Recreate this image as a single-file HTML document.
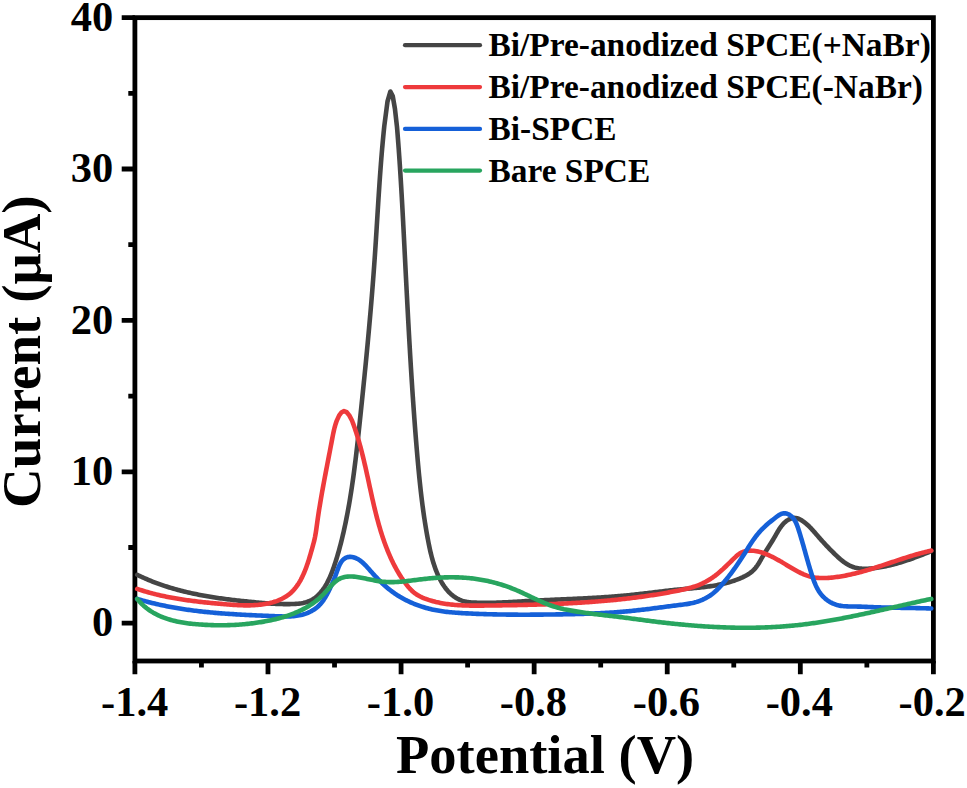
<!DOCTYPE html>
<html lang="en"><head><meta charset="utf-8"><title>DPV chart</title>
<style>html,body{margin:0;padding:0;background:#fff;}body{width:967px;height:788px;overflow:hidden;font-family:"Liberation Serif",serif;}svg{display:block;}</style></head>
<body>
<svg width="967" height="788" viewBox="0 0 967 788">
<rect x="0" y="0" width="967" height="788" fill="#ffffff"/>
<defs><clipPath id="plot"><rect x="134.9" y="17.65" width="798.5" height="643.35"/></clipPath></defs>
<g stroke="#000" stroke-width="4.8" fill="none" stroke-linecap="butt">
<rect x="134.9" y="17.65" width="798.50" height="643.35"/>
<path d="M134.90,661.0 V674.20 M201.44,661.0 V667.60 M267.98,661.0 V674.20 M334.53,661.0 V667.60 M401.07,661.0 V674.20 M467.61,661.0 V667.60 M534.15,661.0 V674.20 M600.69,661.0 V667.60 M667.23,661.0 V674.20 M733.77,661.0 V667.60 M800.32,661.0 V674.20 M866.86,661.0 V667.60 M933.40,661.0 V674.20 M134.9,623.20 H121.70 M134.9,471.80 H121.70 M134.9,320.40 H121.70 M134.9,169.00 H121.70 M134.9,17.60 H121.70 M134.9,547.50 H128.30 M134.9,396.10 H128.30 M134.9,244.70 H128.30 M134.9,93.30 H128.30"/>
</g>
<g fill="none" stroke-linejoin="round" stroke-linecap="round">
<path d="M137.20,574.80 L138.56,575.47 L139.93,576.12 L141.30,576.77 L142.68,577.40 L144.05,578.02 L145.43,578.63 L146.82,579.23 L148.21,579.82 L149.60,580.40 L150.99,580.97 L152.39,581.52 L153.79,582.07 L155.20,582.61 L156.61,583.14 L158.02,583.65 L159.43,584.16 L160.85,584.66 L162.27,585.15 L163.69,585.63 L165.11,586.10 L166.54,586.56 L167.97,587.01 L169.40,587.46 L170.84,587.89 L172.28,588.32 L173.72,588.73 L175.16,589.14 L176.60,589.54 L178.05,589.94 L179.50,590.32 L180.95,590.70 L182.41,591.07 L183.86,591.43 L185.32,591.79 L186.78,592.13 L188.24,592.47 L189.71,592.80 L191.17,593.13 L192.64,593.45 L194.11,593.76 L195.58,594.07 L197.05,594.37 L198.52,594.66 L200.00,594.94 L201.47,595.22 L202.95,595.50 L204.43,595.77 L205.91,596.03 L207.39,596.29 L208.88,596.54 L210.36,596.78 L211.85,597.03 L213.33,597.26 L214.82,597.49 L216.31,597.72 L217.79,597.94 L219.28,598.16 L220.77,598.37 L222.26,598.58 L223.76,598.78 L225.25,598.98 L226.74,599.17 L228.23,599.37 L229.73,599.55 L231.22,599.74 L232.71,599.92 L234.21,600.10 L235.70,600.27 L237.20,600.44 L238.69,600.61 L240.19,600.77 L241.68,600.94 L243.18,601.09 L244.67,601.25 L246.17,601.41 L247.66,601.56 L249.15,601.71 L250.65,601.86 L252.14,602.00 L253.63,602.15 L255.12,602.29 L256.62,602.43 L258.11,602.57 L259.60,602.71 L261.09,602.84 L262.58,602.97 L264.07,603.09 L265.57,603.21 L267.06,603.32 L268.55,603.43 L270.05,603.54 L271.54,603.63 L273.04,603.72 L274.54,603.80 L276.03,603.87 L277.53,603.94 L279.04,603.99 L280.54,604.04 L282.05,604.07 L283.55,604.10 L285.06,604.11 L286.58,604.11 L288.09,604.10 L289.61,604.08 L291.13,604.05 L292.65,604.00 L294.18,603.93 L295.70,603.85 L297.23,603.75 L298.75,603.61 L300.25,603.43 L301.75,603.21 L303.23,602.94 L304.70,602.62 L306.14,602.23 L307.55,601.77 L308.94,601.25 L310.30,600.66 L311.62,600.01 L312.90,599.28 L314.14,598.49 L315.33,597.63 L316.48,596.70 L317.58,595.71 L318.65,594.68 L319.67,593.59 L320.66,592.47 L321.60,591.31 L322.51,590.12 L323.39,588.91 L324.23,587.67 L325.04,586.41 L325.81,585.14 L326.56,583.84 L327.28,582.52 L327.98,581.18 L328.65,579.83 L329.29,578.47 L329.91,577.09 L330.51,575.70 L331.10,574.30 L331.66,572.89 L332.20,571.47 L332.74,570.04 L333.25,568.61 L333.76,567.18 L334.25,565.74 L334.73,564.30 L335.20,562.85 L335.67,561.41 L336.13,559.97 L336.58,558.53 L337.02,557.08 L337.45,555.64 L337.87,554.19 L338.29,552.75 L338.70,551.30 L339.11,549.85 L339.51,548.41 L339.90,546.96 L340.28,545.51 L340.66,544.06 L341.03,542.61 L341.40,541.15 L341.76,539.70 L342.11,538.25 L342.46,536.79 L342.80,535.34 L343.14,533.88 L343.48,532.42 L343.81,530.96 L344.13,529.50 L344.45,528.04 L344.77,526.58 L345.08,525.11 L345.39,523.65 L345.69,522.18 L345.99,520.72 L346.29,519.25 L346.58,517.78 L346.87,516.31 L347.15,514.84 L347.44,513.37 L347.71,511.90 L347.99,510.42 L348.26,508.95 L348.52,507.47 L348.79,506.00 L349.04,504.52 L349.30,503.04 L349.55,501.57 L349.80,500.09 L350.05,498.61 L350.29,497.13 L350.53,495.65 L350.77,494.16 L351.01,492.68 L351.24,491.20 L351.47,489.71 L351.69,488.23 L351.91,486.74 L352.13,485.26 L352.35,483.77 L352.57,482.28 L352.78,480.80 L352.99,479.31 L353.20,477.82 L353.40,476.33 L353.61,474.84 L353.81,473.35 L354.01,471.86 L354.20,470.37 L354.40,468.87 L354.59,467.38 L354.78,465.89 L354.97,464.40 L355.16,462.90 L355.34,461.41 L355.53,459.92 L355.71,458.42 L355.89,456.93 L356.07,455.43 L356.24,453.94 L356.42,452.44 L356.59,450.94 L356.76,449.45 L356.94,447.95 L357.11,446.46 L357.28,444.96 L357.44,443.46 L357.61,441.97 L357.78,440.47 L357.94,438.97 L358.10,437.47 L358.27,435.98 L358.43,434.48 L358.59,432.98 L358.75,431.48 L358.91,429.99 L359.07,428.49 L359.23,426.99 L359.39,425.49 L359.55,424.00 L359.71,422.50 L359.87,421.00 L360.02,419.50 L360.18,418.01 L360.34,416.51 L360.49,415.01 L360.65,413.52 L360.81,412.02 L360.96,410.52 L361.12,409.03 L361.28,407.53 L361.43,406.03 L361.59,404.54 L361.74,403.04 L361.90,401.54 L362.05,400.05 L362.21,398.55 L362.36,397.06 L362.51,395.56 L362.67,394.06 L362.82,392.57 L362.97,391.07 L363.13,389.58 L363.28,388.08 L363.43,386.59 L363.58,385.09 L363.73,383.60 L363.88,382.10 L364.04,380.61 L364.19,379.11 L364.34,377.62 L364.49,376.12 L364.63,374.63 L364.78,373.13 L364.93,371.64 L365.08,370.14 L365.23,368.65 L365.38,367.15 L365.52,365.66 L365.67,364.16 L365.82,362.67 L365.96,361.17 L366.11,359.68 L366.25,358.18 L366.40,356.69 L366.54,355.19 L366.68,353.70 L366.83,352.20 L366.97,350.71 L367.11,349.21 L367.25,347.72 L367.40,346.22 L367.54,344.73 L367.68,343.23 L367.82,341.74 L367.96,340.24 L368.10,338.75 L368.23,337.26 L368.37,335.76 L368.51,334.27 L368.65,332.77 L368.78,331.28 L368.92,329.78 L369.06,328.29 L369.19,326.79 L369.32,325.30 L369.46,323.80 L369.59,322.31 L369.72,320.81 L369.86,319.32 L369.99,317.82 L370.12,316.32 L370.25,314.83 L370.38,313.33 L370.51,311.84 L370.64,310.34 L370.77,308.85 L370.89,307.35 L371.02,305.86 L371.15,304.36 L371.27,302.86 L371.40,301.37 L371.52,299.87 L371.64,298.38 L371.77,296.88 L371.89,295.38 L372.01,293.89 L372.13,292.39 L372.25,290.89 L372.37,289.40 L372.49,287.90 L372.61,286.40 L372.73,284.91 L372.84,283.41 L372.96,281.91 L373.08,280.42 L373.19,278.92 L373.30,277.42 L373.42,275.92 L373.53,274.43 L373.64,272.93 L373.75,271.43 L373.86,269.93 L373.97,268.43 L374.08,266.94 L374.19,265.44 L374.30,263.94 L374.40,262.44 L374.51,260.94 L374.62,259.44 L374.72,257.94 L374.82,256.44 L374.93,254.94 L375.03,253.44 L375.13,251.94 L375.23,250.44 L375.33,248.94 L375.43,247.44 L375.53,245.94 L375.62,244.44 L375.72,242.94 L375.82,241.44 L375.91,239.94 L376.01,238.44 L376.10,236.94 L376.20,235.44 L376.29,233.94 L376.39,232.44 L376.48,230.94 L376.58,229.44 L376.67,227.93 L376.76,226.43 L376.85,224.93 L376.95,223.43 L377.04,221.93 L377.13,220.43 L377.23,218.93 L377.32,217.42 L377.41,215.92 L377.50,214.42 L377.60,212.92 L377.69,211.42 L377.78,209.92 L377.88,208.42 L377.97,206.91 L378.07,205.41 L378.16,203.91 L378.25,202.41 L378.35,200.91 L378.44,199.41 L378.54,197.91 L378.64,196.40 L378.73,194.90 L378.83,193.40 L378.93,191.90 L379.03,190.40 L379.13,188.90 L379.23,187.40 L379.33,185.90 L379.43,184.40 L379.53,182.90 L379.63,181.40 L379.74,179.90 L379.84,178.40 L379.95,176.90 L380.05,175.40 L380.16,173.90 L380.27,172.40 L380.38,170.90 L380.49,169.40 L380.60,167.90 L380.71,166.40 L380.83,164.90 L380.94,163.40 L381.06,161.90 L381.18,160.40 L381.29,158.91 L381.41,157.41 L381.54,155.91 L381.66,154.41 L381.78,152.91 L381.91,151.42 L382.04,149.92 L382.16,148.42 L382.29,146.93 L382.43,145.43 L382.56,143.93 L382.69,142.44 L382.83,140.94 L382.97,139.45 L383.11,137.95 L383.25,136.46 L383.40,134.96 L383.54,133.47 L383.69,131.97 L383.84,130.48 L383.99,128.99 L384.15,127.49 L384.30,126.00 L387.50,101.50 L390.40,91.50 L392.70,96.00 L394.90,108.50 L397.00,127.00 L397.12,128.49 L397.25,129.99 L397.37,131.48 L397.49,132.98 L397.61,134.47 L397.72,135.97 L397.84,137.46 L397.96,138.96 L398.07,140.45 L398.19,141.95 L398.30,143.44 L398.41,144.94 L398.52,146.44 L398.63,147.93 L398.74,149.43 L398.85,150.92 L398.95,152.42 L399.06,153.92 L399.16,155.41 L399.27,156.91 L399.37,158.41 L399.48,159.90 L399.58,161.40 L399.68,162.90 L399.78,164.39 L399.88,165.89 L399.98,167.39 L400.07,168.88 L400.17,170.38 L400.27,171.88 L400.36,173.38 L400.46,174.87 L400.55,176.37 L400.64,177.87 L400.74,179.37 L400.83,180.86 L400.92,182.36 L401.01,183.86 L401.10,185.36 L401.19,186.86 L401.28,188.35 L401.37,189.85 L401.45,191.35 L401.54,192.85 L401.63,194.35 L401.71,195.84 L401.80,197.34 L401.88,198.84 L401.97,200.34 L402.05,201.84 L402.14,203.34 L402.22,204.84 L402.30,206.33 L402.38,207.83 L402.47,209.33 L402.55,210.83 L402.63,212.33 L402.71,213.83 L402.79,215.33 L402.87,216.82 L402.95,218.32 L403.03,219.82 L403.11,221.32 L403.19,222.82 L403.26,224.32 L403.34,225.82 L403.42,227.32 L403.50,228.82 L403.58,230.31 L403.65,231.81 L403.73,233.31 L403.81,234.81 L403.88,236.31 L403.96,237.81 L404.04,239.31 L404.11,240.81 L404.19,242.30 L404.26,243.80 L404.34,245.30 L404.42,246.80 L404.49,248.30 L404.57,249.80 L404.64,251.30 L404.72,252.79 L404.79,254.29 L404.87,255.79 L404.94,257.29 L405.02,258.79 L405.10,260.29 L405.17,261.79 L405.25,263.28 L405.32,264.78 L405.40,266.28 L405.47,267.78 L405.55,269.28 L405.63,270.78 L405.70,272.27 L405.78,273.77 L405.85,275.27 L405.93,276.77 L406.01,278.27 L406.08,279.76 L406.16,281.26 L406.24,282.76 L406.31,284.26 L406.39,285.76 L406.47,287.25 L406.54,288.75 L406.62,290.25 L406.70,291.75 L406.78,293.25 L406.85,294.74 L406.93,296.24 L407.01,297.74 L407.09,299.24 L407.17,300.73 L407.24,302.23 L407.32,303.73 L407.40,305.23 L407.48,306.72 L407.56,308.22 L407.64,309.72 L407.72,311.22 L407.80,312.71 L407.88,314.21 L407.96,315.71 L408.04,317.21 L408.12,318.70 L408.20,320.20 L408.28,321.70 L408.37,323.20 L408.45,324.69 L408.53,326.19 L408.61,327.69 L408.69,329.19 L408.78,330.68 L408.86,332.18 L408.94,333.68 L409.03,335.17 L409.11,336.67 L409.20,338.17 L409.28,339.67 L409.37,341.16 L409.45,342.66 L409.54,344.16 L409.63,345.65 L409.71,347.15 L409.80,348.65 L409.89,350.15 L409.97,351.64 L410.06,353.14 L410.15,354.64 L410.24,356.13 L410.33,357.63 L410.42,359.13 L410.51,360.62 L410.60,362.12 L410.69,363.62 L410.78,365.11 L410.87,366.61 L410.96,368.11 L411.06,369.61 L411.15,371.10 L411.24,372.60 L411.34,374.10 L411.43,375.59 L411.53,377.09 L411.62,378.59 L411.72,380.08 L411.81,381.58 L411.91,383.08 L412.01,384.57 L412.11,386.07 L412.20,387.57 L412.30,389.06 L412.40,390.56 L412.50,392.06 L412.60,393.55 L412.70,395.05 L412.80,396.55 L412.91,398.04 L413.01,399.54 L413.11,401.04 L413.22,402.53 L413.32,404.03 L413.43,405.53 L413.53,407.02 L413.64,408.52 L413.74,410.02 L413.85,411.51 L413.96,413.01 L414.07,414.51 L414.18,416.00 L414.28,417.50 L414.40,419.00 L414.51,420.49 L414.62,421.99 L414.73,423.49 L414.84,424.98 L414.96,426.48 L415.07,427.98 L415.18,429.47 L415.30,430.97 L415.42,432.47 L415.53,433.96 L415.65,435.46 L415.77,436.96 L415.89,438.45 L416.01,439.95 L416.13,441.45 L416.25,442.94 L416.37,444.44 L416.49,445.94 L416.62,447.43 L416.74,448.93 L416.86,450.43 L416.99,451.92 L417.12,453.42 L417.24,454.91 L417.37,456.41 L417.50,457.91 L417.63,459.40 L417.76,460.90 L417.90,462.40 L418.03,463.89 L418.17,465.39 L418.31,466.88 L418.44,468.38 L418.59,469.87 L418.73,471.37 L418.87,472.86 L419.02,474.36 L419.16,475.85 L419.31,477.35 L419.46,478.84 L419.62,480.33 L419.77,481.83 L419.93,483.32 L420.09,484.81 L420.25,486.30 L420.41,487.80 L420.58,489.29 L420.74,490.78 L420.91,492.27 L421.09,493.76 L421.26,495.25 L421.44,496.74 L421.62,498.23 L421.80,499.72 L421.99,501.21 L422.18,502.69 L422.37,504.18 L422.56,505.67 L422.76,507.15 L422.96,508.64 L423.16,510.12 L423.37,511.61 L423.58,513.09 L423.79,514.58 L424.00,516.06 L424.22,517.54 L424.45,519.02 L424.67,520.50 L424.90,521.98 L425.13,523.46 L425.37,524.94 L425.61,526.42 L425.85,527.90 L426.10,529.37 L426.35,530.85 L426.61,532.33 L426.87,533.80 L427.13,535.27 L427.40,536.75 L427.67,538.22 L427.95,539.69 L428.23,541.16 L428.51,542.63 L428.80,544.10 L429.10,545.56 L429.40,547.03 L429.72,548.49 L430.04,549.95 L430.37,551.41 L430.71,552.87 L431.06,554.32 L431.43,555.77 L431.81,557.22 L432.20,558.67 L432.60,560.11 L433.03,561.55 L433.46,562.98 L433.92,564.41 L434.39,565.84 L434.88,567.26 L435.39,568.68 L435.92,570.09 L436.47,571.50 L437.04,572.90 L437.64,574.29 L438.25,575.68 L438.90,577.06 L439.57,578.43 L440.26,579.78 L440.98,581.12 L441.73,582.44 L442.52,583.74 L443.33,585.02 L444.17,586.27 L445.05,587.49 L445.96,588.69 L446.90,589.85 L447.89,590.98 L448.90,592.07 L449.96,593.13 L451.06,594.14 L452.19,595.11 L453.37,596.04 L454.59,596.91 L455.84,597.74 L457.13,598.50 L458.45,599.20 L459.80,599.83 L461.18,600.40 L462.59,600.88 L464.02,601.29 L465.47,601.63 L466.94,601.90 L468.42,602.12 L469.92,602.29 L471.43,602.43 L472.94,602.53 L474.46,602.60 L475.98,602.66 L477.50,602.71 L479.01,602.75 L480.53,602.78 L482.04,602.81 L483.55,602.82 L485.06,602.83 L486.57,602.83 L488.07,602.82 L489.58,602.81 L491.08,602.79 L492.59,602.76 L494.09,602.72 L495.59,602.68 L497.09,602.64 L498.59,602.59 L500.08,602.53 L501.58,602.47 L503.08,602.41 L504.57,602.34 L506.07,602.27 L507.56,602.20 L509.06,602.12 L510.55,602.04 L512.05,601.96 L513.54,601.88 L515.03,601.79 L516.53,601.70 L518.02,601.62 L519.51,601.53 L521.00,601.44 L522.50,601.35 L523.99,601.26 L525.48,601.17 L526.98,601.09 L528.47,601.00 L529.97,600.91 L531.46,600.83 L532.96,600.75 L534.45,600.67 L535.95,600.59 L537.45,600.51 L538.94,600.44 L540.44,600.36 L541.94,600.29 L543.44,600.22 L544.94,600.15 L546.44,600.08 L547.94,600.01 L549.44,599.94 L550.94,599.87 L552.44,599.80 L553.94,599.74 L555.44,599.67 L556.94,599.60 L558.44,599.54 L559.94,599.47 L561.44,599.40 L562.94,599.34 L564.44,599.27 L565.94,599.21 L567.45,599.14 L568.95,599.07 L570.45,599.01 L571.95,598.94 L573.45,598.87 L574.95,598.80 L576.46,598.73 L577.96,598.66 L579.46,598.59 L580.96,598.52 L582.46,598.44 L583.96,598.37 L585.46,598.29 L586.97,598.21 L588.47,598.14 L589.97,598.06 L591.47,597.97 L592.97,597.89 L594.47,597.81 L595.97,597.72 L597.47,597.63 L598.97,597.54 L600.46,597.45 L601.96,597.35 L603.46,597.25 L604.96,597.16 L606.46,597.05 L607.95,596.95 L609.45,596.84 L610.95,596.73 L612.44,596.62 L613.94,596.51 L615.43,596.39 L616.93,596.27 L618.42,596.14 L619.92,596.02 L621.41,595.89 L622.90,595.75 L624.39,595.62 L625.88,595.48 L627.37,595.33 L628.86,595.18 L630.35,595.03 L631.84,594.88 L633.33,594.72 L634.82,594.56 L636.31,594.40 L637.79,594.23 L639.28,594.06 L640.77,593.89 L642.25,593.72 L643.74,593.55 L645.22,593.37 L646.71,593.19 L648.20,593.02 L649.68,592.84 L651.17,592.66 L652.65,592.48 L654.14,592.30 L655.62,592.12 L657.11,591.94 L658.60,591.76 L660.08,591.59 L661.57,591.41 L663.06,591.24 L664.55,591.06 L666.04,590.89 L667.53,590.72 L669.02,590.55 L670.51,590.39 L672.00,590.23 L673.49,590.07 L674.98,589.91 L676.48,589.76 L677.97,589.61 L679.47,589.46 L680.97,589.32 L682.46,589.18 L683.96,589.04 L685.46,588.91 L686.96,588.77 L688.46,588.64 L689.96,588.50 L691.46,588.36 L692.95,588.23 L694.45,588.08 L695.95,587.94 L697.45,587.79 L698.94,587.63 L700.44,587.48 L701.93,587.31 L703.42,587.14 L704.91,586.96 L706.40,586.77 L707.88,586.57 L709.37,586.36 L710.85,586.15 L712.33,585.92 L713.80,585.68 L715.28,585.42 L716.75,585.16 L718.21,584.88 L719.68,584.58 L721.14,584.28 L722.59,583.95 L724.05,583.61 L725.50,583.25 L726.94,582.87 L728.38,582.48 L729.82,582.06 L731.25,581.63 L732.68,581.17 L734.10,580.70 L735.51,580.20 L736.93,579.68 L738.33,579.13 L739.73,578.56 L741.13,577.97 L742.51,577.35 L743.88,576.69 L745.23,576.01 L746.56,575.28 L747.85,574.51 L749.12,573.70 L750.34,572.84 L751.52,571.93 L752.65,570.96 L753.72,569.93 L754.74,568.85 L755.70,567.70 L756.61,566.50 L757.48,565.26 L758.31,563.99 L759.11,562.69 L759.89,561.38 L760.65,560.05 L761.41,558.72 L762.16,557.40 L762.92,556.10 L763.68,554.81 L764.45,553.54 L765.22,552.28 L766.00,551.03 L766.78,549.78 L767.57,548.54 L768.35,547.31 L769.14,546.07 L769.92,544.82 L770.71,543.57 L771.49,542.31 L772.27,541.04 L773.05,539.75 L773.82,538.45 L774.58,537.12 L775.34,535.78 L776.11,534.43 L776.88,533.08 L777.66,531.74 L778.46,530.41 L779.29,529.10 L780.14,527.83 L781.02,526.59 L781.95,525.40 L782.91,524.26 L783.93,523.18 L785.00,522.18 L786.12,521.24 L787.32,520.40 L788.58,519.64 L789.91,518.99 L791.29,518.47 L792.71,518.10 L794.15,517.92 L795.58,517.94 L797.00,518.21 L798.38,518.69 L799.72,519.32 L801.03,520.03 L802.29,520.81 L803.52,521.64 L804.72,522.53 L805.89,523.46 L807.03,524.44 L808.15,525.46 L809.24,526.51 L810.31,527.60 L811.36,528.70 L812.39,529.83 L813.42,530.97 L814.43,532.12 L815.43,533.27 L816.42,534.43 L817.42,535.59 L818.41,536.73 L819.40,537.87 L820.39,538.99 L821.38,540.11 L822.37,541.21 L823.37,542.31 L824.37,543.41 L825.38,544.49 L826.39,545.57 L827.41,546.65 L828.43,547.71 L829.46,548.78 L830.51,549.84 L831.56,550.90 L832.62,551.96 L833.69,553.01 L834.77,554.07 L835.87,555.12 L836.98,556.17 L838.10,557.21 L839.24,558.23 L840.39,559.23 L841.57,560.21 L842.76,561.16 L843.97,562.07 L845.20,562.94 L846.45,563.76 L847.73,564.53 L849.02,565.24 L850.35,565.89 L851.69,566.46 L853.06,566.97 L854.46,567.41 L855.88,567.78 L857.32,568.09 L858.77,568.33 L860.25,568.52 L861.73,568.66 L863.23,568.75 L864.74,568.79 L866.26,568.79 L867.79,568.74 L869.32,568.66 L870.85,568.55 L872.39,568.40 L873.92,568.22 L875.45,568.03 L876.97,567.81 L878.49,567.57 L880.00,567.32 L881.50,567.05 L883.00,566.77 L884.48,566.47 L885.96,566.17 L887.43,565.85 L888.90,565.51 L890.35,565.17 L891.80,564.81 L893.25,564.44 L894.69,564.06 L896.12,563.67 L897.55,563.27 L898.97,562.86 L900.40,562.43 L901.81,562.00 L903.23,561.56 L904.64,561.11 L906.04,560.64 L907.45,560.17 L908.85,559.70 L910.25,559.21 L911.65,558.71 L913.05,558.21 L914.45,557.70 L915.85,557.18 L917.24,556.66 L918.64,556.13 L920.04,555.59 L921.44,555.05 L922.84,554.50 L924.25,553.94 L925.65,553.38 L927.06,552.82 L928.47,552.25 L929.88,551.68 L931.30,551.10" stroke="#454545" stroke-width="4.6"/>
<path d="M137.20,588.90 L138.64,589.38 L140.08,589.85 L141.52,590.31 L142.97,590.76 L144.41,591.20 L145.86,591.63 L147.31,592.05 L148.76,592.46 L150.21,592.85 L151.66,593.24 L153.12,593.62 L154.57,593.99 L156.03,594.36 L157.49,594.71 L158.95,595.05 L160.41,595.39 L161.87,595.72 L163.34,596.04 L164.80,596.35 L166.27,596.65 L167.74,596.95 L169.21,597.24 L170.68,597.52 L172.15,597.79 L173.63,598.06 L175.10,598.32 L176.58,598.57 L178.05,598.82 L179.53,599.06 L181.01,599.29 L182.49,599.52 L183.97,599.74 L185.45,599.96 L186.94,600.17 L188.42,600.38 L189.91,600.58 L191.39,600.78 L192.88,600.97 L194.37,601.15 L195.86,601.34 L197.35,601.51 L198.84,601.69 L200.33,601.86 L201.82,602.02 L203.32,602.18 L204.81,602.34 L206.31,602.50 L207.80,602.65 L209.30,602.80 L210.80,602.95 L212.30,603.09 L213.80,603.23 L215.30,603.37 L216.80,603.51 L218.30,603.64 L219.80,603.77 L221.30,603.91 L222.81,604.04 L224.31,604.17 L225.82,604.29 L227.32,604.42 L228.83,604.54 L230.33,604.65 L231.84,604.76 L233.34,604.87 L234.85,604.96 L236.36,605.05 L237.86,605.13 L239.37,605.20 L240.87,605.26 L242.38,605.30 L243.88,605.34 L245.38,605.36 L246.89,605.36 L248.39,605.36 L249.89,605.33 L251.39,605.29 L252.89,605.23 L254.39,605.15 L255.88,605.05 L257.38,604.93 L258.87,604.79 L260.36,604.63 L261.85,604.45 L263.34,604.24 L264.83,604.00 L266.32,603.74 L267.80,603.45 L269.27,603.14 L270.74,602.79 L272.20,602.41 L273.64,602.00 L275.08,601.55 L276.50,601.07 L277.90,600.55 L279.29,599.99 L280.65,599.39 L282.00,598.75 L283.32,598.07 L284.61,597.34 L285.88,596.56 L287.13,595.74 L288.34,594.87 L289.52,593.95 L290.66,592.97 L291.78,591.95 L292.85,590.87 L293.89,589.74 L294.88,588.58 L295.84,587.39 L296.75,586.17 L297.63,584.93 L298.46,583.66 L299.25,582.38 L300.02,581.08 L300.75,579.77 L301.45,578.44 L302.12,577.10 L302.76,575.74 L303.39,574.38 L303.99,573.01 L304.57,571.63 L305.13,570.24 L305.68,568.84 L306.20,567.44 L306.71,566.03 L307.21,564.61 L307.69,563.19 L308.16,561.76 L308.62,560.33 L309.07,558.90 L309.51,557.46 L309.94,556.02 L310.37,554.58 L310.78,553.14 L311.20,551.69 L311.61,550.25 L312.02,548.80 L312.43,547.36 L312.83,545.91 L313.23,544.47 L313.62,543.02 L313.99,541.57 L314.34,540.11 L314.66,538.65 L314.97,537.19 L315.25,535.71 L315.51,534.24 L315.76,532.76 L315.99,531.28 L316.22,529.79 L316.43,528.31 L316.64,526.82 L316.84,525.33 L317.05,523.84 L317.25,522.35 L317.46,520.86 L317.67,519.38 L317.89,517.89 L318.10,516.40 L318.33,514.92 L318.55,513.43 L318.78,511.94 L319.01,510.46 L319.25,508.98 L319.48,507.49 L319.72,506.01 L319.97,504.53 L320.21,503.04 L320.46,501.56 L320.71,500.08 L320.96,498.60 L321.22,497.12 L321.48,495.64 L321.74,494.16 L322.00,492.68 L322.26,491.20 L322.53,489.72 L322.80,488.24 L323.07,486.76 L323.34,485.29 L323.61,483.81 L323.88,482.33 L324.16,480.85 L324.43,479.38 L324.71,477.90 L324.99,476.42 L325.27,474.95 L325.55,473.47 L325.83,471.99 L326.12,470.52 L326.40,469.04 L326.68,467.57 L326.97,466.09 L327.25,464.61 L327.54,463.14 L327.82,461.66 L328.11,460.19 L328.39,458.71 L328.68,457.24 L328.96,455.76 L329.25,454.29 L329.53,452.81 L329.82,451.34 L330.10,449.86 L330.39,448.39 L330.67,446.91 L330.95,445.43 L331.23,443.96 L331.51,442.48 L331.79,441.01 L332.07,439.53 L332.35,438.05 L332.63,436.58 L332.92,435.10 L333.21,433.63 L333.52,432.16 L333.84,430.70 L334.18,429.23 L334.55,427.78 L334.93,426.33 L335.35,424.88 L335.80,423.45 L336.28,422.02 L336.80,420.60 L339.20,415.40 L341.70,412.20 L344.00,411.10 L346.70,412.20 L349.30,415.40 L352.10,420.80 L352.63,422.20 L353.15,423.61 L353.66,425.02 L354.16,426.43 L354.65,427.85 L355.13,429.26 L355.61,430.69 L356.07,432.11 L356.53,433.53 L356.98,434.96 L357.42,436.39 L357.86,437.82 L358.29,439.26 L358.71,440.70 L359.12,442.14 L359.53,443.58 L359.93,445.02 L360.33,446.46 L360.71,447.91 L361.10,449.36 L361.48,450.81 L361.85,452.26 L362.22,453.71 L362.58,455.17 L362.94,456.63 L363.30,458.08 L363.65,459.54 L364.00,461.00 L364.34,462.46 L364.68,463.92 L365.02,465.39 L365.36,466.85 L365.69,468.31 L366.02,469.78 L366.35,471.24 L366.67,472.71 L367.00,474.18 L367.32,475.64 L367.64,477.11 L367.96,478.58 L368.28,480.05 L368.60,481.52 L368.92,482.99 L369.24,484.45 L369.55,485.92 L369.87,487.39 L370.19,488.86 L370.51,490.33 L370.83,491.79 L371.16,493.26 L371.48,494.73 L371.81,496.19 L372.13,497.66 L372.46,499.13 L372.80,500.59 L373.13,502.05 L373.47,503.52 L373.81,504.98 L374.15,506.44 L374.50,507.90 L374.85,509.35 L375.21,510.81 L375.57,512.27 L375.93,513.72 L376.30,515.17 L376.67,516.63 L377.05,518.08 L377.43,519.52 L377.82,520.97 L378.22,522.41 L378.62,523.86 L379.03,525.30 L379.44,526.74 L379.86,528.17 L380.29,529.61 L380.72,531.04 L381.17,532.47 L381.62,533.90 L382.07,535.32 L382.54,536.74 L383.01,538.16 L383.49,539.58 L383.98,540.99 L384.48,542.41 L384.99,543.82 L385.51,545.22 L386.04,546.62 L386.58,548.02 L387.13,549.42 L387.68,550.81 L388.25,552.20 L388.83,553.59 L389.42,554.97 L390.03,556.35 L390.64,557.73 L391.26,559.10 L391.90,560.46 L392.55,561.82 L393.21,563.17 L393.89,564.52 L394.58,565.86 L395.28,567.19 L396.00,568.52 L396.73,569.84 L397.47,571.15 L398.23,572.45 L399.00,573.74 L399.79,575.02 L400.60,576.29 L401.41,577.56 L402.25,578.81 L403.10,580.05 L403.97,581.28 L404.85,582.49 L405.76,583.70 L406.68,584.89 L407.62,586.07 L408.58,587.22 L409.57,588.34 L410.59,589.43 L411.65,590.49 L412.74,591.50 L413.87,592.47 L415.04,593.39 L416.25,594.25 L417.51,595.05 L418.81,595.81 L420.15,596.51 L421.51,597.17 L422.90,597.78 L424.31,598.36 L425.74,598.90 L427.18,599.41 L428.62,599.90 L430.07,600.35 L431.52,600.79 L432.98,601.20 L434.44,601.58 L435.89,601.95 L437.36,602.29 L438.82,602.61 L440.29,602.91 L441.76,603.19 L443.23,603.45 L444.70,603.70 L446.18,603.92 L447.65,604.13 L449.13,604.32 L450.61,604.49 L452.10,604.65 L453.58,604.80 L455.07,604.93 L456.55,605.05 L458.04,605.15 L459.53,605.24 L461.03,605.32 L462.52,605.39 L464.01,605.45 L465.51,605.50 L467.00,605.54 L468.50,605.57 L470.00,605.60 L471.50,605.62 L473.00,605.63 L474.50,605.63 L476.00,605.63 L477.50,605.63 L479.00,605.62 L480.51,605.61 L482.01,605.59 L483.51,605.58 L485.01,605.56 L486.52,605.54 L488.02,605.52 L489.52,605.51 L491.03,605.49 L492.53,605.47 L494.03,605.45 L495.54,605.43 L497.04,605.41 L498.54,605.38 L500.04,605.36 L501.55,605.34 L503.05,605.32 L504.55,605.29 L506.06,605.27 L507.56,605.24 L509.06,605.22 L510.56,605.19 L512.07,605.17 L513.57,605.14 L515.07,605.11 L516.58,605.08 L518.08,605.05 L519.58,605.02 L521.08,604.99 L522.58,604.95 L524.09,604.92 L525.59,604.89 L527.09,604.85 L528.59,604.81 L530.10,604.77 L531.60,604.73 L533.10,604.69 L534.60,604.65 L536.10,604.61 L537.60,604.57 L539.10,604.52 L540.61,604.47 L542.11,604.43 L543.61,604.38 L545.11,604.33 L546.61,604.27 L548.11,604.22 L549.61,604.17 L551.11,604.11 L552.61,604.05 L554.11,603.99 L555.61,603.93 L557.11,603.87 L558.61,603.80 L560.11,603.74 L561.61,603.67 L563.11,603.60 L564.61,603.53 L566.10,603.45 L567.60,603.38 L569.10,603.30 L570.60,603.22 L572.10,603.14 L573.59,603.06 L575.09,602.98 L576.59,602.89 L578.09,602.80 L579.58,602.71 L581.08,602.62 L582.58,602.52 L584.07,602.43 L585.57,602.33 L587.06,602.22 L588.56,602.12 L590.05,602.02 L591.55,601.91 L593.04,601.80 L594.54,601.68 L596.03,601.57 L597.53,601.45 L599.02,601.33 L600.51,601.21 L602.01,601.08 L603.50,600.95 L604.99,600.82 L606.48,600.69 L607.98,600.56 L609.47,600.42 L610.96,600.28 L612.45,600.13 L613.94,599.99 L615.43,599.84 L616.92,599.69 L618.41,599.53 L619.90,599.37 L621.39,599.21 L622.88,599.05 L624.37,598.88 L625.86,598.71 L627.34,598.54 L628.83,598.37 L630.32,598.19 L631.81,598.01 L633.29,597.82 L634.78,597.63 L636.27,597.44 L637.75,597.25 L639.24,597.05 L640.72,596.85 L642.21,596.65 L643.69,596.44 L645.17,596.23 L646.66,596.02 L648.14,595.80 L649.62,595.58 L651.10,595.35 L652.59,595.13 L654.07,594.89 L655.55,594.66 L657.03,594.42 L658.51,594.18 L659.99,593.93 L661.47,593.68 L662.95,593.43 L664.42,593.17 L665.90,592.91 L667.38,592.65 L668.86,592.38 L670.33,592.11 L671.81,591.83 L673.28,591.55 L674.76,591.27 L676.23,590.98 L677.71,590.69 L679.18,590.39 L680.66,590.09 L682.13,589.78 L683.59,589.46 L685.06,589.13 L686.52,588.79 L687.98,588.43 L689.43,588.05 L690.87,587.65 L692.31,587.24 L693.74,586.80 L695.16,586.33 L696.57,585.84 L697.97,585.32 L699.36,584.76 L700.74,584.18 L702.11,583.56 L703.46,582.91 L704.80,582.23 L706.13,581.52 L707.44,580.78 L708.74,580.01 L710.02,579.22 L711.29,578.40 L712.53,577.55 L713.76,576.69 L714.98,575.80 L716.17,574.89 L717.34,573.96 L718.50,573.02 L719.64,572.06 L720.77,571.08 L721.89,570.08 L722.99,569.08 L724.09,568.06 L725.17,567.04 L726.25,566.00 L727.33,564.96 L728.40,563.91 L729.47,562.86 L730.54,561.81 L731.61,560.75 L732.68,559.70 L733.76,558.64 L734.84,557.59 L735.94,556.57 L737.06,555.58 L738.21,554.64 L739.40,553.78 L740.63,553.01 L741.92,552.33 L743.27,551.78 L744.69,551.35 L746.14,551.04 L747.62,550.82 L749.11,550.70 L750.60,550.66 L752.09,550.69 L753.58,550.80 L755.07,550.98 L756.56,551.22 L758.04,551.53 L759.52,551.89 L760.99,552.30 L762.45,552.75 L763.90,553.25 L765.33,553.79 L766.76,554.36 L768.16,554.96 L769.55,555.58 L770.92,556.22 L772.27,556.88 L773.61,557.55 L774.93,558.24 L776.24,558.94 L777.53,559.66 L778.82,560.38 L780.10,561.12 L781.38,561.86 L782.65,562.62 L783.92,563.38 L785.19,564.14 L786.46,564.91 L787.74,565.69 L789.02,566.47 L790.31,567.24 L791.61,568.02 L792.91,568.79 L794.23,569.55 L795.55,570.29 L796.88,571.02 L798.22,571.73 L799.57,572.42 L800.92,573.08 L802.29,573.71 L803.67,574.31 L805.06,574.87 L806.46,575.39 L807.87,575.87 L809.29,576.30 L810.72,576.68 L812.16,577.01 L813.62,577.29 L815.08,577.52 L816.56,577.71 L818.04,577.85 L819.52,577.96 L821.02,578.03 L822.52,578.06 L824.02,578.05 L825.52,578.02 L827.03,577.96 L828.54,577.87 L830.05,577.75 L831.55,577.61 L833.06,577.46 L834.56,577.28 L836.06,577.09 L837.55,576.89 L839.04,576.67 L840.53,576.43 L842.01,576.19 L843.49,575.93 L844.97,575.65 L846.44,575.37 L847.91,575.07 L849.38,574.76 L850.84,574.44 L852.30,574.11 L853.76,573.77 L855.22,573.42 L856.67,573.06 L858.12,572.69 L859.57,572.31 L861.01,571.93 L862.46,571.53 L863.90,571.13 L865.34,570.72 L866.77,570.30 L868.21,569.88 L869.64,569.45 L871.08,569.01 L872.51,568.57 L873.94,568.13 L875.37,567.67 L876.79,567.22 L878.22,566.76 L879.65,566.30 L881.07,565.83 L882.49,565.37 L883.92,564.90 L885.34,564.42 L886.76,563.95 L888.19,563.48 L889.61,563.00 L891.03,562.52 L892.46,562.05 L893.88,561.57 L895.30,561.10 L896.72,560.62 L898.15,560.15 L899.57,559.68 L901.00,559.21 L902.43,558.75 L903.85,558.29 L905.28,557.83 L906.71,557.37 L908.14,556.92 L909.57,556.48 L911.01,556.04 L912.44,555.60 L913.88,555.17 L915.32,554.75 L916.76,554.33 L918.20,553.92 L919.65,553.52 L921.10,553.12 L922.55,552.73 L924.00,552.35 L925.45,551.98 L926.91,551.62 L928.37,551.27 L929.83,550.93 L931.30,550.60" stroke="#ee3a3c" stroke-width="4.6"/>
<path d="M137.20,598.90 L138.65,599.34 L140.11,599.76 L141.57,600.18 L143.02,600.59 L144.48,601.00 L145.94,601.39 L147.40,601.78 L148.86,602.16 L150.32,602.53 L151.78,602.90 L153.24,603.26 L154.71,603.61 L156.17,603.95 L157.64,604.29 L159.10,604.62 L160.57,604.94 L162.03,605.25 L163.50,605.56 L164.97,605.87 L166.44,606.16 L167.91,606.45 L169.38,606.73 L170.85,607.01 L172.32,607.28 L173.79,607.55 L175.27,607.80 L176.74,608.06 L178.21,608.30 L179.69,608.54 L181.17,608.78 L182.64,609.01 L184.12,609.23 L185.60,609.45 L187.08,609.67 L188.56,609.88 L190.04,610.08 L191.52,610.28 L193.00,610.47 L194.48,610.66 L195.96,610.84 L197.45,611.02 L198.93,611.20 L200.42,611.37 L201.90,611.53 L203.39,611.70 L204.88,611.85 L206.36,612.01 L207.85,612.16 L209.34,612.30 L210.83,612.44 L212.32,612.58 L213.81,612.72 L215.31,612.85 L216.80,612.97 L218.29,613.10 L219.78,613.22 L221.28,613.34 L222.77,613.45 L224.27,613.56 L225.77,613.67 L227.26,613.78 L228.76,613.88 L230.26,613.98 L231.76,614.08 L233.26,614.17 L234.76,614.26 L236.26,614.35 L237.76,614.44 L239.26,614.53 L240.76,614.61 L242.27,614.69 L243.77,614.77 L245.28,614.85 L246.78,614.93 L248.29,615.00 L249.79,615.08 L251.30,615.15 L252.81,615.22 L254.32,615.29 L255.82,615.36 L257.33,615.43 L258.84,615.49 L260.35,615.56 L261.87,615.62 L263.38,615.69 L264.89,615.75 L266.40,615.81 L267.92,615.88 L269.43,615.94 L270.95,616.00 L272.46,616.06 L273.98,616.13 L275.49,616.19 L277.01,616.25 L278.53,616.31 L280.04,616.36 L281.56,616.40 L283.07,616.43 L284.58,616.45 L286.09,616.45 L287.59,616.44 L289.09,616.40 L290.58,616.34 L292.07,616.25 L293.55,616.13 L295.02,615.98 L296.48,615.80 L297.94,615.58 L299.39,615.32 L300.83,615.02 L302.26,614.68 L303.68,614.29 L305.09,613.85 L306.48,613.35 L307.86,612.81 L309.23,612.21 L310.57,611.55 L311.89,610.85 L313.18,610.09 L314.43,609.27 L315.65,608.40 L316.83,607.47 L317.97,606.49 L319.06,605.46 L320.10,604.37 L321.09,603.24 L322.05,602.06 L322.96,600.85 L323.83,599.60 L324.67,598.32 L325.47,597.02 L326.25,595.69 L326.99,594.35 L327.71,593.00 L328.40,591.65 L329.08,590.29 L329.73,588.93 L330.37,587.58 L330.99,586.25 L331.60,584.92 L332.19,583.59 L332.77,582.26 L333.35,580.93 L333.91,579.59 L334.46,578.23 L335.00,576.86 L335.54,575.47 L336.07,574.05 L336.59,572.59 L337.11,571.11 L337.64,569.62 L338.20,568.12 L338.78,566.64 L339.42,565.20 L340.11,563.81 L340.88,562.49 L341.74,561.26 L342.70,560.13 L343.77,559.12 L344.94,558.27 L346.20,557.60 L347.55,557.14 L348.96,556.91 L350.40,556.86 L351.86,557.00 L353.32,557.29 L354.74,557.71 L356.10,558.24 L357.42,558.87 L358.69,559.60 L359.91,560.41 L361.10,561.29 L362.25,562.25 L363.37,563.25 L364.47,564.31 L365.54,565.41 L366.60,566.53 L367.64,567.68 L368.67,568.84 L369.70,570.01 L370.72,571.17 L371.75,572.32 L372.77,573.46 L373.80,574.59 L374.84,575.71 L375.87,576.82 L376.91,577.92 L377.96,579.01 L379.01,580.09 L380.07,581.15 L381.14,582.20 L382.22,583.23 L383.31,584.26 L384.41,585.26 L385.51,586.25 L386.63,587.23 L387.77,588.19 L388.91,589.13 L390.08,590.05 L391.25,590.96 L392.44,591.84 L393.65,592.71 L394.87,593.56 L396.11,594.39 L397.36,595.21 L398.63,596.00 L399.90,596.78 L401.20,597.53 L402.50,598.27 L403.81,598.99 L405.14,599.69 L406.48,600.37 L407.83,601.03 L409.18,601.68 L410.55,602.30 L411.93,602.91 L413.32,603.50 L414.71,604.06 L416.12,604.61 L417.53,605.14 L418.95,605.65 L420.37,606.15 L421.80,606.62 L423.24,607.07 L424.68,607.51 L426.13,607.93 L427.59,608.32 L429.04,608.70 L430.51,609.06 L431.97,609.40 L433.44,609.72 L434.91,610.02 L436.39,610.30 L437.86,610.57 L439.34,610.82 L440.82,611.05 L442.31,611.27 L443.79,611.48 L445.28,611.67 L446.77,611.85 L448.26,612.01 L449.76,612.17 L451.25,612.31 L452.75,612.45 L454.24,612.58 L455.74,612.69 L457.24,612.80 L458.74,612.91 L460.24,613.00 L461.74,613.10 L463.24,613.18 L464.74,613.27 L466.24,613.35 L467.74,613.42 L469.24,613.50 L470.74,613.57 L472.24,613.64 L473.74,613.71 L475.24,613.77 L476.74,613.83 L478.24,613.89 L479.74,613.95 L481.24,614.00 L482.74,614.05 L484.25,614.10 L485.75,614.15 L487.25,614.20 L488.75,614.24 L490.25,614.28 L491.75,614.32 L493.25,614.35 L494.75,614.39 L496.25,614.42 L497.75,614.45 L499.25,614.48 L500.75,614.50 L502.25,614.53 L503.75,614.55 L505.25,614.57 L506.75,614.59 L508.25,614.61 L509.75,614.62 L511.25,614.64 L512.75,614.65 L514.25,614.66 L515.75,614.67 L517.25,614.67 L518.75,614.68 L520.25,614.68 L521.75,614.69 L523.25,614.69 L524.75,614.69 L526.25,614.68 L527.76,614.68 L529.26,614.68 L530.76,614.67 L532.26,614.67 L533.76,614.66 L535.26,614.65 L536.76,614.64 L538.26,614.63 L539.76,614.62 L541.26,614.60 L542.77,614.59 L544.27,614.57 L545.77,614.56 L547.27,614.54 L548.77,614.52 L550.27,614.50 L551.78,614.48 L553.28,614.46 L554.78,614.44 L556.28,614.42 L557.78,614.40 L559.29,614.38 L560.79,614.35 L562.29,614.33 L563.79,614.30 L565.30,614.28 L566.80,614.25 L568.30,614.22 L569.80,614.19 L571.31,614.16 L572.81,614.12 L574.31,614.09 L575.81,614.05 L577.32,614.01 L578.82,613.98 L580.32,613.93 L581.82,613.89 L583.33,613.84 L584.83,613.80 L586.33,613.75 L587.83,613.70 L589.33,613.64 L590.83,613.59 L592.34,613.53 L593.84,613.47 L595.34,613.40 L596.84,613.34 L598.34,613.27 L599.84,613.20 L601.34,613.12 L602.84,613.05 L604.34,612.97 L605.84,612.88 L607.33,612.80 L608.83,612.71 L610.33,612.62 L611.83,612.52 L613.33,612.42 L614.82,612.32 L616.32,612.22 L617.82,612.11 L619.31,611.99 L620.81,611.88 L622.30,611.76 L623.80,611.63 L625.29,611.50 L626.79,611.37 L628.28,611.23 L629.77,611.09 L631.27,610.95 L632.76,610.80 L634.25,610.65 L635.74,610.49 L637.23,610.33 L638.72,610.16 L640.21,609.99 L641.70,609.82 L643.19,609.64 L644.68,609.47 L646.17,609.28 L647.66,609.10 L649.15,608.91 L650.64,608.72 L652.12,608.53 L653.61,608.34 L655.10,608.15 L656.59,607.95 L658.08,607.76 L659.57,607.56 L661.06,607.37 L662.55,607.17 L664.04,606.98 L665.53,606.78 L667.02,606.59 L668.51,606.39 L670.00,606.20 L671.49,606.01 L672.99,605.82 L674.48,605.63 L675.97,605.45 L677.47,605.26 L678.96,605.08 L680.46,604.90 L681.95,604.72 L683.45,604.53 L684.94,604.33 L686.42,604.11 L687.91,603.88 L689.38,603.62 L690.86,603.34 L692.32,603.04 L693.78,602.70 L695.22,602.32 L696.66,601.91 L698.09,601.45 L699.50,600.96 L700.90,600.42 L702.29,599.84 L703.65,599.21 L705.00,598.55 L706.33,597.85 L707.63,597.11 L708.91,596.32 L710.16,595.50 L711.39,594.64 L712.59,593.73 L713.76,592.79 L714.89,591.82 L716.01,590.81 L717.09,589.77 L718.16,588.71 L719.20,587.62 L720.22,586.52 L721.23,585.40 L722.23,584.26 L723.21,583.12 L724.19,581.98 L725.15,580.82 L726.10,579.66 L727.04,578.50 L727.98,577.32 L728.90,576.14 L729.82,574.96 L730.72,573.77 L731.62,572.57 L732.51,571.37 L733.39,570.16 L734.27,568.94 L735.14,567.72 L736.00,566.50 L736.85,565.27 L737.70,564.03 L738.54,562.79 L739.37,561.54 L740.20,560.29 L741.02,559.04 L741.84,557.77 L742.66,556.51 L743.46,555.24 L744.27,553.97 L745.07,552.69 L745.87,551.41 L746.67,550.13 L747.47,548.85 L748.27,547.58 L749.08,546.31 L749.90,545.04 L750.72,543.78 L751.54,542.53 L752.38,541.29 L753.23,540.05 L754.09,538.83 L754.97,537.63 L755.86,536.44 L756.77,535.26 L757.70,534.10 L758.65,532.96 L759.61,531.84 L760.60,530.74 L761.62,529.67 L762.65,528.61 L763.71,527.58 L764.80,526.55 L765.90,525.55 L767.02,524.55 L768.16,523.57 L769.32,522.59 L770.50,521.62 L771.70,520.66 L772.91,519.69 L774.14,518.72 L775.39,517.75 L776.65,516.79 L777.92,515.86 L779.21,515.00 L780.51,514.27 L781.83,513.71 L783.16,513.35 L784.51,513.23 L785.86,513.37 L787.20,513.75 L788.51,514.33 L789.78,515.09 L790.98,515.99 L792.10,517.03 L793.13,518.16 L794.04,519.36 L794.86,520.63 L795.59,521.95 L796.24,523.32 L796.84,524.73 L797.38,526.16 L797.89,527.61 L798.37,529.07 L798.84,530.53 L799.31,531.98 L799.76,533.43 L800.21,534.88 L800.65,536.33 L801.08,537.78 L801.51,539.22 L801.93,540.66 L802.35,542.10 L802.76,543.54 L803.17,544.98 L803.58,546.41 L803.98,547.85 L804.39,549.28 L804.79,550.71 L805.19,552.15 L805.59,553.58 L805.99,555.01 L806.39,556.44 L806.79,557.87 L807.20,559.30 L807.60,560.74 L808.02,562.17 L808.43,563.60 L808.85,565.04 L809.27,566.47 L809.70,567.91 L810.14,569.35 L810.58,570.79 L811.03,572.23 L811.48,573.67 L811.95,575.12 L812.42,576.56 L812.91,578.01 L813.41,579.45 L813.93,580.88 L814.48,582.30 L815.05,583.70 L815.65,585.09 L816.28,586.46 L816.95,587.81 L817.65,589.13 L818.40,590.42 L819.19,591.68 L820.03,592.90 L820.91,594.09 L821.86,595.24 L822.86,596.34 L823.91,597.40 L825.02,598.41 L826.18,599.37 L827.38,600.28 L828.63,601.13 L829.92,601.92 L831.24,602.65 L832.59,603.32 L833.97,603.92 L835.38,604.45 L836.81,604.92 L838.26,605.31 L839.72,605.63 L841.20,605.88 L842.68,606.07 L844.18,606.22 L845.68,606.32 L847.20,606.39 L848.71,606.44 L850.23,606.46 L851.75,606.48 L853.26,606.49 L854.78,606.51 L856.29,606.54 L857.79,606.58 L859.30,606.62 L860.80,606.67 L862.30,606.73 L863.80,606.78 L865.29,606.85 L866.79,606.91 L868.28,606.97 L869.78,607.04 L871.27,607.10 L872.77,607.16 L874.26,607.22 L875.76,607.27 L877.26,607.32 L878.75,607.37 L880.25,607.42 L881.75,607.46 L883.25,607.50 L884.75,607.54 L886.25,607.57 L887.76,607.60 L889.26,607.64 L890.76,607.67 L892.26,607.69 L893.77,607.72 L895.27,607.75 L896.77,607.77 L898.28,607.80 L899.78,607.82 L901.29,607.84 L902.79,607.87 L904.29,607.89 L905.80,607.91 L907.30,607.94 L908.81,607.96 L910.31,607.98 L911.81,608.01 L913.31,608.04 L914.82,608.06 L916.32,608.09 L917.82,608.12 L919.32,608.16 L920.82,608.19 L922.32,608.23 L923.82,608.27 L925.32,608.31 L926.81,608.35 L928.31,608.40 L929.81,608.45 L931.30,608.50" stroke="#1560d8" stroke-width="4.6"/>
<path d="M137.20,598.90 L138.21,600.12 L139.24,601.30 L140.29,602.44 L141.37,603.55 L142.46,604.61 L143.58,605.64 L144.72,606.63 L145.88,607.59 L147.05,608.51 L148.25,609.40 L149.46,610.26 L150.69,611.08 L151.94,611.87 L153.20,612.63 L154.48,613.36 L155.78,614.06 L157.09,614.73 L158.41,615.37 L159.75,615.98 L161.10,616.56 L162.47,617.12 L163.85,617.66 L165.24,618.16 L166.64,618.65 L168.05,619.11 L169.47,619.54 L170.91,619.96 L172.35,620.35 L173.80,620.72 L175.26,621.07 L176.72,621.40 L178.20,621.71 L179.68,622.00 L181.16,622.28 L182.66,622.54 L184.15,622.78 L185.66,623.00 L187.16,623.22 L188.67,623.41 L190.19,623.60 L191.70,623.77 L193.22,623.93 L194.74,624.07 L196.26,624.21 L197.78,624.33 L199.30,624.45 L200.82,624.56 L202.34,624.66 L203.86,624.75 L205.38,624.83 L206.89,624.91 L208.41,624.98 L209.92,625.04 L211.43,625.10 L212.94,625.14 L214.45,625.18 L215.95,625.21 L217.46,625.23 L218.96,625.25 L220.46,625.26 L221.97,625.25 L223.47,625.24 L224.97,625.22 L226.47,625.20 L227.96,625.16 L229.46,625.12 L230.96,625.07 L232.45,625.01 L233.94,624.94 L235.44,624.86 L236.93,624.77 L238.42,624.67 L239.91,624.57 L241.40,624.45 L242.89,624.33 L244.38,624.20 L245.87,624.06 L247.35,623.90 L248.84,623.74 L250.33,623.57 L251.81,623.39 L253.30,623.20 L254.78,623.01 L256.27,622.80 L257.75,622.58 L259.24,622.35 L260.72,622.11 L262.20,621.86 L263.68,621.61 L265.17,621.34 L266.65,621.06 L268.13,620.77 L269.61,620.47 L271.09,620.16 L272.57,619.83 L274.04,619.50 L275.51,619.15 L276.98,618.78 L278.45,618.41 L279.90,618.02 L281.36,617.61 L282.81,617.20 L284.25,616.76 L285.69,616.31 L287.13,615.85 L288.55,615.37 L289.97,614.87 L291.38,614.36 L292.78,613.83 L294.18,613.28 L295.56,612.71 L296.94,612.12 L298.30,611.52 L299.66,610.89 L301.00,610.25 L302.34,609.58 L303.66,608.90 L304.97,608.19 L306.27,607.47 L307.56,606.72 L308.83,605.95 L310.09,605.16 L311.33,604.34 L312.56,603.50 L313.78,602.64 L314.98,601.75 L316.16,600.84 L317.33,599.91 L318.48,598.95 L319.62,597.96 L320.73,596.95 L321.83,595.91 L322.92,594.85 L323.98,593.76 L325.02,592.64 L326.05,591.50 L327.06,590.34 L328.07,589.17 L329.08,588.01 L330.09,586.86 L331.11,585.73 L332.15,584.63 L333.21,583.56 L334.29,582.54 L335.41,581.57 L336.56,580.67 L337.75,579.84 L338.99,579.08 L340.28,578.42 L341.63,577.85 L343.05,577.39 L344.52,577.04 L346.04,576.78 L347.59,576.61 L349.16,576.52 L350.74,576.50 L352.32,576.54 L353.88,576.64 L355.41,576.78 L356.90,576.97 L358.37,577.18 L359.83,577.43 L361.28,577.69 L362.73,577.97 L364.19,578.26 L365.65,578.57 L367.12,578.88 L368.59,579.19 L370.06,579.50 L371.53,579.81 L373.00,580.11 L374.48,580.40 L375.96,580.68 L377.44,580.94 L378.92,581.18 L380.40,581.39 L381.88,581.59 L383.37,581.75 L384.85,581.88 L386.34,581.98 L387.82,582.05 L389.31,582.10 L390.80,582.12 L392.29,582.11 L393.77,582.09 L395.26,582.04 L396.75,581.97 L398.25,581.89 L399.74,581.78 L401.23,581.67 L402.72,581.53 L404.22,581.39 L405.71,581.23 L407.21,581.07 L408.70,580.89 L410.20,580.71 L411.70,580.53 L413.19,580.34 L414.69,580.15 L416.19,579.95 L417.69,579.76 L419.19,579.57 L420.69,579.38 L422.19,579.19 L423.70,579.01 L425.20,578.84 L426.70,578.68 L428.21,578.52 L429.71,578.38 L431.22,578.24 L432.72,578.11 L434.23,577.99 L435.73,577.88 L437.24,577.77 L438.75,577.68 L440.25,577.60 L441.76,577.52 L443.26,577.46 L444.77,577.40 L446.27,577.36 L447.78,577.33 L449.28,577.31 L450.78,577.29 L452.29,577.29 L453.79,577.31 L455.29,577.33 L456.79,577.36 L458.29,577.41 L459.79,577.47 L461.29,577.54 L462.79,577.62 L464.28,577.72 L465.78,577.82 L467.27,577.95 L468.76,578.08 L470.25,578.23 L471.74,578.39 L473.23,578.57 L474.72,578.76 L476.20,578.96 L477.69,579.18 L479.17,579.41 L480.65,579.65 L482.12,579.91 L483.60,580.19 L485.07,580.47 L486.54,580.77 L488.00,581.09 L489.47,581.42 L490.93,581.76 L492.39,582.12 L493.84,582.49 L495.29,582.87 L496.74,583.27 L498.18,583.68 L499.62,584.10 L501.06,584.54 L502.49,584.99 L503.92,585.46 L505.35,585.94 L506.77,586.43 L508.18,586.94 L509.59,587.46 L511.00,587.99 L512.40,588.54 L513.80,589.10 L515.19,589.67 L516.57,590.26 L517.96,590.86 L519.33,591.47 L520.71,592.08 L522.08,592.71 L523.45,593.34 L524.81,593.98 L526.18,594.62 L527.54,595.27 L528.90,595.92 L530.26,596.57 L531.62,597.21 L532.98,597.86 L534.35,598.50 L535.71,599.14 L537.08,599.77 L538.44,600.40 L539.81,601.01 L541.19,601.62 L542.57,602.22 L543.95,602.81 L545.33,603.38 L546.72,603.93 L548.12,604.48 L549.52,605.00 L550.93,605.51 L552.35,606.00 L553.77,606.46 L555.20,606.91 L556.64,607.33 L558.08,607.74 L559.53,608.12 L560.99,608.49 L562.46,608.83 L563.92,609.17 L565.40,609.48 L566.87,609.79 L568.35,610.08 L569.83,610.36 L571.32,610.63 L572.81,610.89 L574.29,611.14 L575.78,611.39 L577.27,611.62 L578.76,611.86 L580.25,612.09 L581.74,612.31 L583.23,612.52 L584.73,612.74 L586.22,612.94 L587.71,613.15 L589.20,613.34 L590.70,613.54 L592.19,613.73 L593.68,613.92 L595.18,614.10 L596.67,614.29 L598.16,614.47 L599.66,614.65 L601.15,614.83 L602.64,615.00 L604.14,615.18 L605.63,615.35 L607.12,615.53 L608.62,615.70 L610.11,615.87 L611.60,616.05 L613.09,616.22 L614.58,616.40 L616.07,616.58 L617.56,616.76 L619.05,616.94 L620.54,617.12 L622.03,617.31 L623.52,617.50 L625.00,617.69 L626.49,617.88 L627.98,618.07 L629.46,618.27 L630.95,618.46 L632.43,618.66 L633.92,618.85 L635.40,619.05 L636.89,619.25 L638.37,619.44 L639.86,619.64 L641.34,619.84 L642.83,620.03 L644.31,620.23 L645.80,620.43 L647.29,620.62 L648.77,620.81 L650.26,621.00 L651.75,621.19 L653.24,621.38 L654.73,621.57 L656.21,621.75 L657.70,621.93 L659.20,622.11 L660.69,622.29 L662.18,622.46 L663.67,622.63 L665.16,622.81 L666.66,622.97 L668.15,623.14 L669.64,623.30 L671.14,623.46 L672.63,623.62 L674.13,623.78 L675.63,623.93 L677.12,624.08 L678.62,624.23 L680.12,624.38 L681.62,624.52 L683.11,624.66 L684.61,624.80 L686.11,624.94 L687.61,625.07 L689.11,625.20 L690.61,625.33 L692.11,625.45 L693.61,625.57 L695.11,625.69 L696.61,625.81 L698.11,625.92 L699.62,626.03 L701.12,626.14 L702.62,626.24 L704.12,626.34 L705.62,626.44 L707.13,626.53 L708.63,626.62 L710.13,626.71 L711.64,626.80 L713.14,626.88 L714.64,626.96 L716.15,627.03 L717.65,627.10 L719.16,627.17 L720.66,627.23 L722.16,627.29 L723.67,627.35 L725.17,627.41 L726.68,627.46 L728.18,627.50 L729.68,627.54 L731.19,627.58 L732.69,627.62 L734.20,627.65 L735.70,627.68 L737.20,627.70 L738.71,627.72 L740.21,627.74 L741.72,627.75 L743.22,627.76 L744.72,627.77 L746.23,627.77 L747.73,627.76 L749.23,627.75 L750.74,627.74 L752.24,627.73 L753.74,627.71 L755.24,627.68 L756.75,627.65 L758.25,627.62 L759.75,627.58 L761.25,627.54 L762.75,627.50 L764.25,627.45 L765.76,627.39 L767.26,627.33 L768.76,627.27 L770.26,627.20 L771.76,627.13 L773.25,627.05 L774.75,626.97 L776.25,626.88 L777.75,626.79 L779.25,626.70 L780.74,626.60 L782.24,626.49 L783.74,626.38 L785.23,626.27 L786.73,626.15 L788.22,626.02 L789.72,625.89 L791.21,625.76 L792.71,625.62 L794.20,625.47 L795.69,625.32 L797.18,625.17 L798.68,625.01 L800.17,624.84 L801.66,624.67 L803.15,624.49 L804.64,624.31 L806.12,624.13 L807.61,623.94 L809.10,623.74 L810.59,623.54 L812.07,623.34 L813.56,623.13 L815.04,622.92 L816.53,622.70 L818.01,622.48 L819.50,622.25 L820.98,622.02 L822.46,621.79 L823.95,621.55 L825.43,621.30 L826.91,621.06 L828.39,620.81 L829.87,620.56 L831.35,620.30 L832.83,620.04 L834.31,619.78 L835.79,619.51 L837.27,619.24 L838.75,618.97 L840.22,618.69 L841.70,618.41 L843.18,618.13 L844.66,617.84 L846.13,617.55 L847.61,617.26 L849.08,616.97 L850.56,616.67 L852.03,616.38 L853.51,616.08 L854.98,615.77 L856.45,615.47 L857.93,615.16 L859.40,614.85 L860.87,614.54 L862.35,614.23 L863.82,613.91 L865.29,613.60 L866.76,613.28 L868.23,612.96 L869.70,612.64 L871.17,612.32 L872.64,611.99 L874.11,611.67 L875.58,611.34 L877.05,611.02 L878.52,610.69 L879.99,610.36 L881.46,610.03 L882.93,609.70 L884.40,609.37 L885.86,609.04 L887.33,608.70 L888.80,608.37 L890.27,608.04 L891.73,607.71 L893.20,607.37 L894.67,607.04 L896.14,606.70 L897.60,606.37 L899.07,606.04 L900.53,605.70 L902.00,605.37 L903.47,605.04 L904.93,604.71 L906.40,604.38 L907.86,604.04 L909.33,603.71 L910.79,603.38 L912.26,603.06 L913.72,602.73 L915.19,602.40 L916.65,602.08 L918.12,601.75 L919.58,601.43 L921.05,601.11 L922.51,600.79 L923.98,600.47 L925.44,600.15 L926.91,599.83 L928.37,599.52 L929.83,599.21 L931.30,598.90" stroke="#28a55f" stroke-width="4.6"/>
</g>
<g font-family="'Liberation Serif', serif" font-weight="bold" fill="#000">
<text x="134.7" y="715.8" font-size="42.5" text-anchor="middle">-1.4</text>
<text x="267.6" y="715.8" font-size="42.5" text-anchor="middle">-1.2</text>
<text x="400.5" y="715.8" font-size="42.5" text-anchor="middle">-1.0</text>
<text x="533.4" y="715.8" font-size="42.5" text-anchor="middle">-0.8</text>
<text x="666.4" y="715.8" font-size="42.5" text-anchor="middle">-0.6</text>
<text x="799.3" y="715.8" font-size="42.5" text-anchor="middle">-0.4</text>
<text x="932.2" y="715.8" font-size="42.5" text-anchor="middle">-0.2</text>
<text x="113.2" y="636.3" font-size="42.5" text-anchor="end">0</text>
<text x="113.2" y="484.9" font-size="42.5" text-anchor="end">10</text>
<text x="113.2" y="333.5" font-size="42.5" text-anchor="end">20</text>
<text x="113.2" y="182.1" font-size="42.5" text-anchor="end">30</text>
<text x="113.2" y="30.7" font-size="42.5" text-anchor="end">40</text>
<text x="545.1" y="772.7" font-size="54.5" text-anchor="middle">Potential (V)</text>
<text transform="translate(40.2,351.7) rotate(-90)" font-size="55" text-anchor="middle">Current (μA)</text>
<text x="488.5" y="56.3" font-size="33.4">Bi/Pre-anodized SPCE(+NaBr)</text>
<text x="488.5" y="98.2" font-size="33.4">Bi/Pre-anodized SPCE(-NaBr)</text>
<text x="488.5" y="140.0" font-size="33.4">Bi-SPCE</text>
<text x="488.5" y="181.7" font-size="33.4">Bare SPCE</text>
</g>
<g fill="none" stroke-linecap="round" stroke-width="4.2">
<path d="M405,45.2 H480" stroke="#454545"/>
<path d="M405,87.1 H480" stroke="#ee3a3c"/>
<path d="M405,128.9 H480" stroke="#1560d8"/>
<path d="M405,170.6 H480" stroke="#28a55f"/>
</g>
</svg>
</body></html>
